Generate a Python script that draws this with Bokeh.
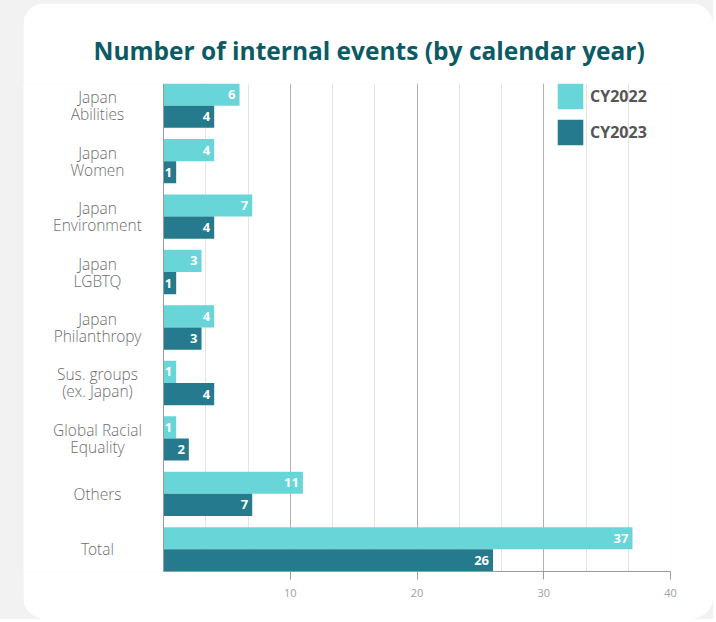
from bokeh.plotting import figure
from bokeh.models import Range1d, FixedTicker, Legend, LegendItem, ColumnDataSource, Span
from bokeh.layouts import column
from bokeh.embed import file_html
from bokeh.resources import INLINE
from bokeh.core.properties import value

categories = ["Japan\nAbilities", "Japan\nWomen", "Japan\nEnvironment", "Japan\nLGBTQ",
              "Japan\nPhilanthropy", "Sus. groups\n(ex. Japan)", "Global Racial\nEquality",
              "Others", "Total"]
cy2022 = [6, 4, 7, 3, 4, 1, 1, 11, 37]
cy2023 = [4, 1, 4, 1, 3, 4, 2, 7, 26]
x_ticks = [10, 20, 30, 40]
series_names = ["CY2022", "CY2023"]
title_text = "Number of internal events (by calendar year)"

C22 = "#68d6d9"
C23 = "#257b8d"
FONT = "Open Sans"
LIGHT_FONT = "Open Sans Light, Lato Light, Open Sans"

# layout in pixels (figure coords)
FIG_W, FIG_H = 690, 616
LABEL_AREA = 140          # pixels left of the value-axis zero line
PLOT_PX = 507             # pixels for 0..40
X_MAX = 40
x_min = -X_MAX * LABEL_AREA / PLOT_PX

n = len(categories)
pos = [n - 1 - i for i in range(n)]
src = ColumnDataSource(dict(
    pos=pos,
    zero=[0] * n,
    cat=categories,
    y22=[p_ + 0.2 for p_ in pos],
    y23=[p_ - 0.2 for p_ in pos],
    v22=cy2022, v23=cy2023,
    t22=[str(v) for v in cy2022], t23=[str(v) for v in cy2023],
))

p = figure(width=FIG_W, height=FIG_H, x_range=Range1d(x_min, X_MAX), y_range=Range1d(-0.4, n - 1 + 0.4),
           output_backend="svg", toolbar_location=None,
           min_border_left=0, min_border_right=FIG_W - LABEL_AREA - PLOT_PX,
           min_border_top=80, min_border_bottom=48)
p.outline_line_color = None
p.background_fill_color = "white"
p.border_fill_color = "white"
p.styles = {"border-radius": "22px", "overflow": "hidden"}
p.margin = (3, 0, 0, 23)

p.title.text = title_text
p.title.align = "left"
p.title.offset = 70
p.title.standoff = 34
p.title.text_font = FONT
p.title.text_font_style = "bold"
p.title.text_font_size = "24.5px"
p.title.text_color = "#0b5a64"

r22 = p.hbar(y="y22", right="v22", left=0, height=0.4, fill_color=C22, line_color=None, source=src)
r23 = p.hbar(y="y23", right="v23", left=0, height=0.4, fill_color=C23, line_color=None, source=src)

for yk, xk, tk in [("y22", "v22", "t22"), ("y23", "v23", "t23")]:
    p.text(x=xk, y=yk, text=tk, x_offset=-4, text_align="right", text_baseline="middle",
           text_color="white", text_font=value(FONT), text_font_style="bold",
           text_font_size="13px", source=src)

# category labels
p.text(x="zero", y="pos", text="cat", x_offset=-66, text_align="center", text_baseline="middle",
       text_color="#6e6e6e", text_font=value(LIGHT_FONT), text_font_size="15.5px",
       text_line_height=0.77, source=src)

p.add_layout(Span(location=0, dimension="height", line_color="#9a9a9a", line_width=1))

minor = [10 * k / 3 for k in range(1, 12) if k % 3 != 0]
p.xaxis.ticker = FixedTicker(ticks=x_ticks, minor_ticks=minor)
p.xaxis.bounds = (0, X_MAX)
p.xaxis.axis_line_color = "#9a9a9a"
p.xaxis.major_tick_line_color = "#9a9a9a"
p.xaxis.major_tick_out = 8
p.xaxis.major_tick_in = 0
p.xaxis.minor_tick_line_color = None
p.xaxis.major_label_text_font = FONT
p.xaxis.major_label_text_font_size = "11px"
p.xaxis.major_label_text_color = "#a0a0a0"
p.xaxis.major_label_standoff = 9

p.yaxis.visible = False
p.ygrid.grid_line_color = None
p.xgrid.grid_line_color = "#b0b0b0"
p.xgrid.minor_grid_line_color = "#e4e4e4"

legend = Legend(items=[LegendItem(label=series_names[0], renderers=[r22]),
                       LegendItem(label=series_names[1], renderers=[r23])],
                location=(LABEL_AREA + 391, 423), glyph_width=32, glyph_height=32, spacing=4,
                padding=0, margin=0, label_standoff=4,
                label_text_font=FONT, label_text_font_style="bold",
                label_text_font_size="16px", label_text_color="#555555",
                background_fill_alpha=0, border_line_color=None)
p.add_layout(legend)

layout = column(p, styles={"background-color": "#f2f2f2"})
open("out.html", "w").write(file_html(layout, INLINE))
